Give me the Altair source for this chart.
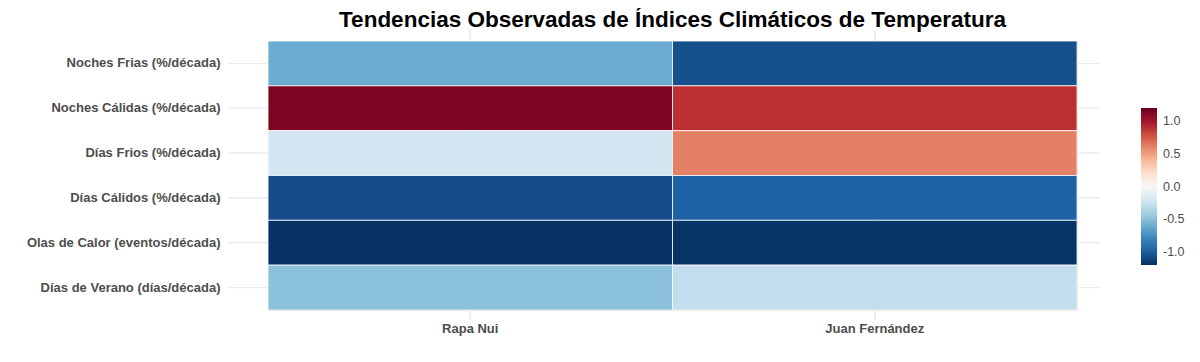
import altair as alt
import pandas as pd

stations = ["Rapa Nui", "Juan Fernández"]
indices = [
    "Noches Frias (%/década)",
    "Noches Cálidas (%/década)",
    "Días Frios (%/década)",
    "Días Cálidos (%/década)",
    "Olas de Calor (eventos/década)",
    "Días de Verano (días/década)",
]
rapa_nui = [-0.60, 1.12, -0.22, -1.07, -1.19, -0.50]
juan_fernandez = [-1.06, 0.90, 0.61, -0.98, -1.18, -0.30]
legend_ticks = [-1.0, -0.5, 0.0, 0.5, 1.0]

rows = []
for i, ind in enumerate(indices):
    rows.append({"Estacion": stations[0], "Indice": ind, "Valor": rapa_nui[i]})
    rows.append({"Estacion": stations[1], "Indice": ind, "Valor": juan_fernandez[i]})
df = pd.DataFrame(rows)

rdbu = ["#053061", "#2166ac", "#4393c3", "#92c5de", "#d1e5f0", "#f7f7f7",
        "#fddbc7", "#f4a582", "#d6604d", "#b2182b", "#67001f"]
lo, hi = -1.2, 1.2
dom = [lo + (hi - lo) * k / 10 for k in range(11)]

W, H = 809, 269

xs = alt.Scale(domain=stations, paddingInner=0, paddingOuter=0)
ys = alt.Scale(domain=indices, paddingInner=0, paddingOuter=0)

base = alt.Chart(df)

hgrid = base.mark_rule(color="#ebebeb", strokeWidth=1).encode(
    y=alt.Y("Indice:N", scale=ys, sort=indices,
            axis=alt.Axis(title=None, ticks=False, domain=False, labelPadding=48,
                          labelFontSize=13, labelFontWeight="bold", labelLimit=400,
                          labelColor="#4d4d4d", labelFont="Liberation Sans")),
    x=alt.value(-40),
    x2=alt.value(W + 23),
)

vgrid = base.mark_rule(color="#ebebeb", strokeWidth=1).encode(
    x=alt.X("Estacion:N", scale=xs, sort=stations,
            axis=alt.Axis(title=None, ticks=False, domain=False, labelPadding=12,
                          labelAngle=0, labelFontSize=13, labelFontWeight="bold",
                          labelColor="#4d4d4d", labelFont="Liberation Sans")),
    y=alt.value(-11),
    y2=alt.value(H + 10),
)

tiles = base.mark_rect(stroke="white", strokeWidth=0.8).encode(
    x=alt.X("Estacion:N", scale=xs, sort=stations),
    y=alt.Y("Indice:N", scale=ys, sort=indices),
    fill=alt.Fill("Valor:Q",
                  scale=alt.Scale(domain=dom, range=rdbu, interpolate="lab"),
                  legend=alt.Legend(title=None, orient="none", legendX=W + 64, legendY=67,
                                    gradientLength=157, gradientThickness=16,
                                    values=legend_ticks, format=".1f",
                                    labelExpr="replace(datum.label, '\u2212', '-')",
                                    labelFontSize=12.5, labelColor="#4d4d4d",
                                    labelFont="Liberation Sans", labelOffset=6,
                                    gradientStrokeWidth=0)),
)

chart = alt.layer(hgrid, vgrid, tiles).properties(
    width=W,
    height=H,
    title=alt.TitleParams(
        "Tendencias Observadas de Índices Climáticos de Temperatura",
        fontSize=22.5, fontWeight="bold", font="Liberation Sans", color="black",
        anchor="middle", offset=-2, frame="group",
    ),
    autosize=alt.AutoSizeParams(type="none"),
    padding={"left": 260, "top": 33, "right": 115, "bottom": 44},
).configure_view(stroke=None).configure(background="white")

chart.save("out.html", embed_options={"renderer": "svg", "actions": False})
